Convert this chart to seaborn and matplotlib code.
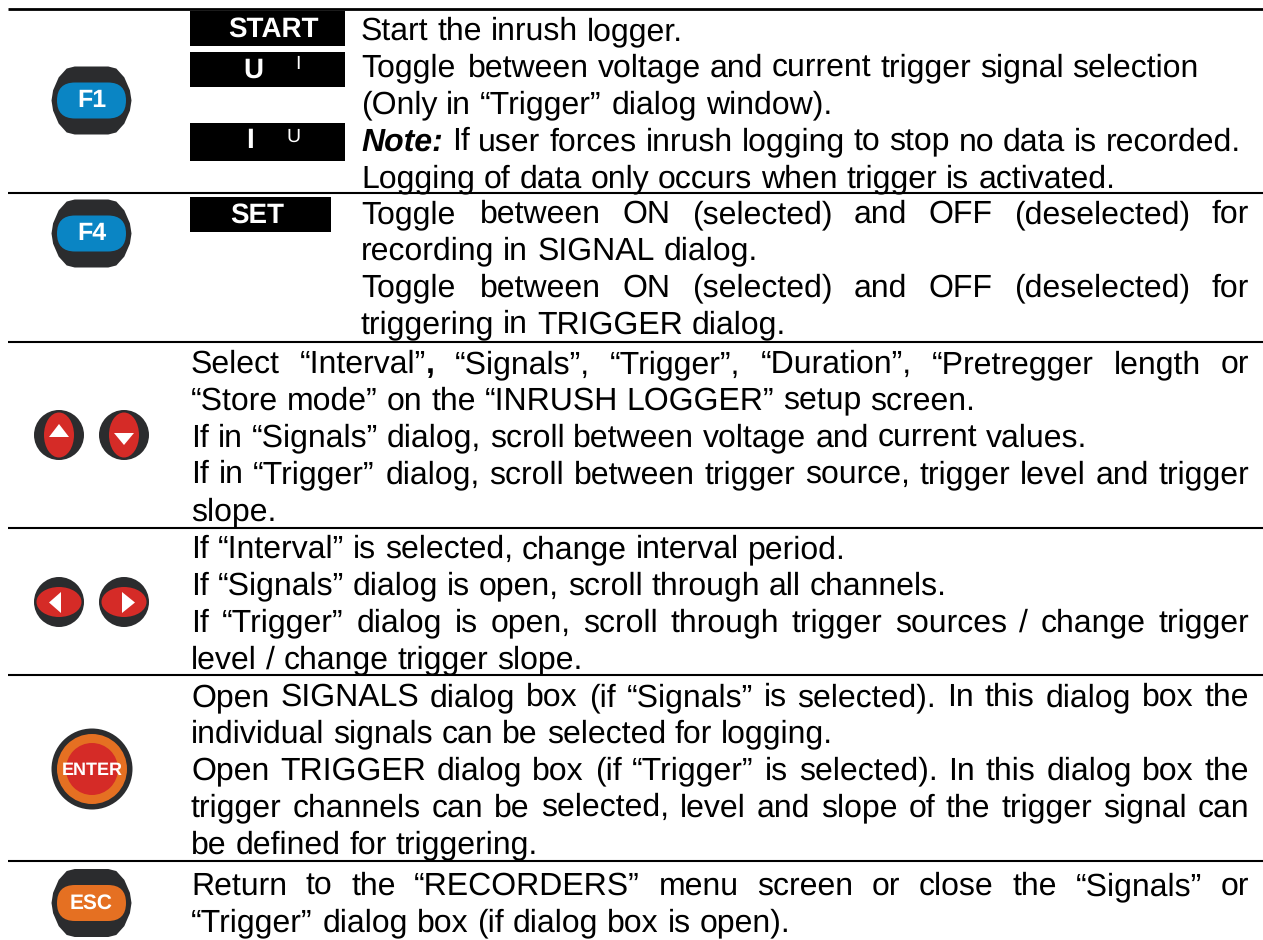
#!/usr/bin/env python
import re
import matplotlib
matplotlib.use("Agg")
import matplotlib.pyplot as plt
from matplotlib.font_manager import FontProperties, findfont, get_font
from matplotlib.ft2font import LoadFlags
from matplotlib.patches import Circle, Ellipse, Polygon, FancyBboxPatch, Rectangle
import seaborn as sns

DARK = "#2b2c2e"
BLUE = "#0a85c4"
RED = "#d52b27"
ORANGE = "#e57022"

FONT = "Liberation Sans"
FS = 23.0
RIGHT = 1249
LINE = 36.8

rules = [9, 193, 342, 528, 675, 861]

# (left edge, first baseline, [(text, justified)])
rows = [
    (361, 40, [("Start the inrush logger.", False),
               ("Toggle between voltage and current trigger signal selection", False),
               ("(Only in “Trigger” dialog window).", False),
               ("***Note:*** If user forces inrush logging to stop no data is recorded.", False),
               ("Logging of data only occurs when trigger is activated.", False)]),
    (361, 223, [("Toggle between ON (selected) and OFF (deselected) for", True),
                ("recording in SIGNAL dialog.", False),
                ("Toggle between ON (selected) and OFF (deselected) for", True),
                ("triggering in TRIGGER dialog.", False)]),
    (191, 373, [("Select “Interval”**,** “Signals”, “Trigger”, “Duration”, “Pretregger length or", True),
                ("“Store mode” on the “INRUSH LOGGER” setup screen.", False),
                ("If in “Signals” dialog, scroll between voltage and current values.", False),
                ("If in “Trigger” dialog, scroll between trigger source, trigger level and trigger", True),
                ("slope.", False)]),
    (191, 558, [("If “Interval” is selected, change interval period.", False),
                ("If “Signals” dialog is open, scroll through all channels.", False),
                ("If “Trigger” dialog is open, scroll through trigger sources / change trigger", True),
                ("level / change trigger slope.", False)]),
    (191, 706, [("Open SIGNALS dialog box (if “Signals” is selected). In this dialog box the", True),
                ("individual signals can be selected for logging.", False),
                ("Open TRIGGER dialog box (if “Trigger” is selected). In this dialog box the", True),
                ("trigger channels can be selected, level and slope of the trigger signal can", True),
                ("be defined for triggering.", False)]),
    (191, 895, [("Return to the “RECORDERS” menu screen or close the “Signals” or", True),
                ("“Trigger” dialog box (if dialog box is open).", False)]),
]

# (x0, x1, y0, y1, main label, main x, main y, small label, small x, small y)
softkeys = [
    (190, 345, 11, 46, "START", 273, 29, "", 0, 0),
    (190, 345, 52, 87, "U", 253, 70, "I", 298, 64),
    (190, 345, 123, 161, "I", 250, 141, "U", 294, 136.5),
    (190, 331, 197, 232, "SET", 257, 215, "", 0, 0),
]

# (centre y, label, pill colour, label size)
keys = [(100.5, "F1", BLUE, 18), (233.5, "F4", BLUE, 18), (903, "ESC", ORANGE, 15)]

sns.set_theme(style="white")
plt.rcParams["font.family"] = [FONT, "DejaVu Sans"]
plt.rcParams["text.hinting"] = "no_hinting"

fig = plt.figure(figsize=(12.63, 9.4), dpi=100)
ax = fig.add_axes([0, 0, 1, 1])
ax.set_xlim(0, 1263)
ax.set_ylim(940, 0)
ax.axis("off")


def parse(line):
    # words as lists of (text, weight, style) pieces
    words = []
    for word in line.split(" "):
        pieces = []
        for part in re.split(r"(\*\*\*.+?\*\*\*|\*\*.+?\*\*)", word):
            if not part:
                continue
            if part.startswith("***"):
                pieces.append((part[3:-3], "bold", "italic"))
            elif part.startswith("**"):
                pieces.append((part[2:-2], "bold", "normal"))
            else:
                pieces.append((part, "normal", "normal"))
        words.append(pieces)
    return words


def width(s, weight, style):
    # sum of glyph advances in pixels
    font = get_font(findfont(FontProperties(family=FONT, weight=weight, style=style)))
    font.set_size(FS, 100)
    return sum(font.load_char(ord(c), flags=LoadFlags.NO_HINTING).linearHoriAdvance / 65536
               for c in s)


def draw_line(line, left, y, justified):
    words = parse(line)
    widths = [sum(width(*p) for p in w) for w in words]
    gap = FS / 0.72 * 0.278
    if justified and len(words) > 1:
        gap = (RIGHT - left - sum(widths)) / (len(words) - 1)
    x = left
    for w, total in zip(words, widths):
        px = x
        for s, weight, style in w:
            ax.text(px, y, s, fontsize=FS, fontweight=weight, fontstyle=style,
                    color="black", ha="left", va="baseline")
            px += width(s, weight, style)
        x += total + gap


def body(cx, cy, hw, hh, color=DARK):
    pts = [(-1, 0), (-0.96, -0.3), (-0.82, -0.68), (-0.62, -0.94), (-0.42, -1), (0.42, -1),
           (0.62, -0.94), (0.82, -0.68), (0.96, -0.3), (1, 0), (0.96, 0.3), (0.82, 0.68),
           (0.62, 0.94), (0.42, 1), (-0.42, 1), (-0.62, 0.94), (-0.82, 0.68), (-0.96, 0.3)]
    ax.add_patch(Polygon([(cx + a * hw, cy + b * hh) for a, b in pts], fc=color, ec="none"))


def pill(cx, cy, hw, hh, color):
    ax.add_patch(FancyBboxPatch((cx - hw, cy - hh), 2 * hw, 2 * hh,
                                boxstyle="round,pad=0,rounding_size=%g" % hh,
                                fc=color, ec="none"))


for i, y in enumerate(rules):
    ax.plot([8, 1263], [y, y], color="black", lw=2.0 if i == 0 else 1.5, solid_capstyle="butt")

for left, first, lines in rows:
    for i, (line, justified) in enumerate(lines):
        draw_line(line, left, first + i * LINE, justified)

for x0, x1, y0, y1, main, mx, my, small, sx, sy in softkeys:
    ax.add_patch(Rectangle((x0, y0), x1 - x0, y1 - y0, fc="black", ec="none"))
    ax.text(mx, my, main, color="white", fontsize=20, fontweight="bold",
            ha="center", va="center")
    if small:
        ax.text(sx, sy, small, color="white", fontsize=14, ha="center", va="center")

for cy, label, color, size in keys:
    body(91.5, cy, 40, 34)
    pill(91.5, cy, 34.5, 18, color)
    ax.text(91.5, cy + 0.5, label, color="white", fontsize=size,
            fontweight="bold", ha="center", va="center")

# up / down
for cx, base, apex in [(59, 437, 424), (124, 433, 445)]:
    ax.add_patch(Circle((cx, 435), 25, fc=DARK, ec="none"))
    ax.add_patch(Ellipse((cx, 435), 30, 45, fc=RED, ec="none"))
    ax.add_patch(Polygon([(cx - 10, base), (cx + 10, base), (cx, apex)], fc="white", ec="none"))

# left / right
for cx, base, apex in [(59, 61, 49), (124, 122, 135)]:
    ax.add_patch(Circle((cx, 602), 25, fc=DARK, ec="none"))
    ax.add_patch(Ellipse((cx, 602), 45, 30, fc=RED, ec="none"))
    ax.add_patch(Polygon([(base, 592), (base, 613), (apex, 602.5)], fc="white", ec="none"))

# enter
for r, c in [(40.5, DARK), (35, ORANGE), (26, RED)]:
    ax.add_patch(Circle((92, 769), r, fc=c, ec="none"))
ax.text(92, 770, "ENTER", color="white", fontsize=13, fontweight="bold", ha="center", va="center")

fig.savefig("out.png", dpi=100, facecolor="white")
